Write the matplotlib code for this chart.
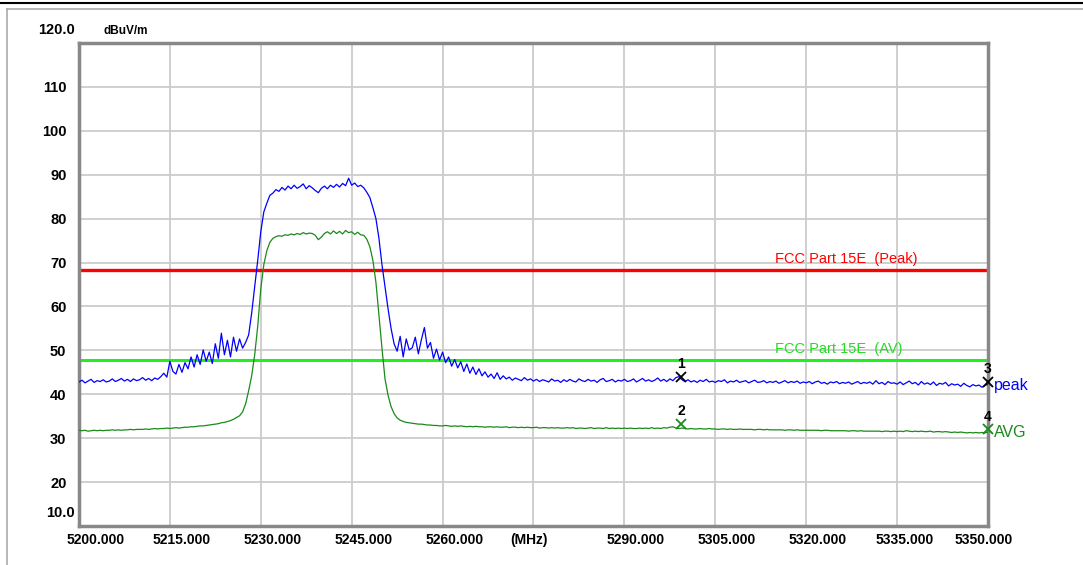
import numpy as np
import matplotlib
matplotlib.use("Agg")
import matplotlib.pyplot as plt
import matplotlib.transforms as mtransforms
from matplotlib.lines import Line2D

plt.rcParams['font.family'] = ['Liberation Sans', 'DejaVu Sans']

# sweep points, 0.5 MHz apart
freq = np.arange(5200.0, 5350.01, 0.5)

peak = [
    42.8, 43.2, 42.6, 43.0, 43.4, 42.7, 43.1, 42.9, 43.3, 42.8,
    43.0, 43.5, 42.9, 43.2, 43.6, 43.0, 43.4, 42.9, 43.5, 43.1,
    43.3, 43.8, 43.2, 43.6, 43.1, 43.7, 43.4, 44.0, 44.8, 43.9,
    47.5, 45.2, 44.6, 46.8, 45.0, 47.2, 45.8, 48.5, 46.2, 49.0,
    46.8, 50.1, 47.5, 49.6, 47.0, 51.5, 48.2, 53.9, 49.0, 52.3,
    48.5, 53.0, 49.8, 52.6, 50.5, 51.8, 53.5, 58.5, 64.5, 70.5,
    77.0, 81.5, 83.5, 85.3, 85.8, 86.6, 86.2, 87.1, 86.5, 87.4,
    86.8, 87.6, 86.9, 87.3, 87.9, 86.8, 87.5, 87.0, 86.4, 85.9,
    86.9, 87.4, 86.8, 87.6, 87.1, 87.8, 87.2, 88.0, 87.5, 89.2,
    87.6, 88.1, 87.3, 87.6, 87.0, 86.0, 84.8, 82.5, 80.0, 75.5,
    69.5, 64.5, 59.5, 55.0, 51.5, 49.8, 53.2, 48.5, 52.6, 50.1,
    50.6, 53.0, 49.2, 52.4, 55.2, 50.5, 51.8, 48.2, 50.3, 47.8,
    49.6, 47.2, 48.5, 46.4, 47.9, 46.0, 47.4, 45.2, 46.9, 44.8,
    46.2, 44.5, 45.8, 44.2, 45.1, 43.9, 44.6, 43.6, 44.9, 43.4,
    44.2, 43.5, 43.9, 43.2, 43.7, 43.4, 43.1, 43.8, 43.2, 43.5,
    43.0, 43.4, 42.9, 43.3, 43.1, 42.8, 43.5, 43.0, 43.2, 42.7,
    43.3, 42.9, 43.4, 43.0, 42.8, 43.5, 43.1, 42.9, 43.4, 43.0,
    43.2, 42.7, 43.3, 43.6, 42.9, 43.1, 43.4, 42.8, 43.2, 43.0,
    43.4, 42.9, 43.1, 43.5, 42.8, 43.2, 43.6, 43.0, 43.3, 42.9,
    43.2, 43.7, 43.0, 43.4, 42.9, 43.5, 43.1, 43.8, 44.0, 43.3,
    42.9, 43.3, 42.8, 43.1, 42.7, 43.2, 42.9, 43.4, 42.8, 43.0,
    42.7, 43.1, 42.9, 43.3, 42.6, 43.0, 42.8, 43.2, 42.7, 42.9,
    43.1, 42.6, 42.9, 43.2, 42.7, 42.8, 43.1, 42.6, 42.9, 42.7,
    43.0, 42.5, 42.8, 43.1, 42.6, 42.9, 42.7, 43.0, 42.5, 42.8,
    42.6, 42.9, 42.4, 42.8, 43.0, 42.5, 42.7, 42.3, 42.8, 42.6,
    42.9, 42.4, 42.7, 42.5, 42.8, 42.3, 42.6, 42.9, 42.4, 42.7,
    42.5, 42.8, 42.3, 43.1, 42.4, 42.7, 42.2, 42.9, 42.5, 42.6,
    42.3, 42.8, 42.2, 42.6, 43.0, 42.4, 42.7, 42.1, 42.9, 42.3,
    42.6, 42.2, 42.8, 42.0, 42.5, 42.3, 42.7, 41.9, 42.4, 42.1,
    42.3, 41.8, 42.5, 42.0, 41.7, 42.2, 41.9, 42.1, 41.6, 42.0,
    42.3,
]

avg = [
    31.8, 31.7, 31.8, 31.6, 31.7, 31.8, 31.7, 31.8, 31.7, 31.8,
    31.8, 31.9, 31.8, 31.9, 31.8, 31.9, 31.9, 32.0, 31.9, 32.0,
    32.0, 32.0, 32.1, 32.0, 32.1, 32.2, 32.1, 32.2, 32.2, 32.3,
    32.2, 32.3, 32.4, 32.3, 32.4, 32.5, 32.5, 32.6, 32.6, 32.7,
    32.8, 32.8, 32.9, 33.0, 33.1, 33.2, 33.3, 33.5, 33.6, 33.8,
    34.0, 34.3, 34.7, 35.1, 36.0, 37.8, 40.8, 44.2, 49.0, 55.5,
    64.0, 69.5, 72.7, 74.6, 75.5, 75.9, 76.1, 76.0, 76.3, 76.2,
    76.5, 76.3, 76.6, 76.4, 76.8, 76.5, 76.7, 76.6, 76.2, 75.2,
    75.8, 76.6, 77.0, 76.5, 77.2, 76.6, 77.1, 76.5, 77.3, 76.8,
    77.0, 76.4, 76.9, 76.3, 76.2, 75.3, 73.6, 70.5, 65.5, 58.0,
    50.5, 43.5, 39.8, 37.2, 35.6, 34.6, 34.1, 33.8, 33.6, 33.5,
    33.4, 33.3, 33.2, 33.2, 33.1, 33.0, 33.0, 32.9, 32.9, 32.8,
    32.8, 32.9, 32.8, 32.7, 32.8, 32.7, 32.8, 32.7, 32.6, 32.7,
    32.6, 32.7, 32.6, 32.6, 32.5, 32.6, 32.6, 32.5, 32.6, 32.5,
    32.5, 32.6, 32.4, 32.5, 32.5, 32.4, 32.5, 32.4, 32.5, 32.4,
    32.4, 32.5, 32.3, 32.4, 32.4, 32.3, 32.4, 32.3, 32.4, 32.3,
    32.3, 32.4, 32.3, 32.4, 32.2, 32.3, 32.3, 32.2, 32.3, 32.4,
    32.2, 32.3, 32.3, 32.2, 32.4, 32.2, 32.3, 32.2, 32.3, 32.2,
    32.3, 32.2, 32.3, 32.2, 32.2, 32.3, 32.2, 32.3, 32.2, 32.4,
    32.2, 32.3, 32.2, 32.4, 32.3, 32.5, 32.6, 32.3, 32.2, 32.3,
    32.2, 32.1, 32.2, 32.1, 32.1, 32.2, 32.1, 32.1, 32.2, 32.1,
    32.1, 32.0, 32.1, 32.1, 32.0, 32.1, 32.0, 32.0, 32.1, 32.0,
    32.0, 32.0, 32.0, 31.9, 32.0, 32.0, 31.9, 32.0, 31.9, 31.9,
    31.9, 31.9, 31.9, 31.8, 31.9, 31.9, 31.8, 31.9, 31.8, 31.8,
    31.8, 31.8, 31.8, 31.8, 31.8, 31.7, 31.8, 31.8, 31.7, 31.7,
    31.7, 31.7, 31.7, 31.7, 31.6, 31.7, 31.7, 31.6, 31.7, 31.6,
    31.6, 31.6, 31.6, 31.6, 31.6, 31.5, 31.6, 31.6, 31.5, 31.6,
    31.5, 31.6, 31.5, 31.7, 31.6, 31.5, 31.6, 31.5, 31.6, 31.5,
    31.5, 31.6, 31.4, 31.5, 31.5, 31.4, 31.5, 31.4, 31.3, 31.4,
    31.3, 31.4, 31.3, 31.2, 31.3, 31.2, 31.3, 31.2, 31.3, 31.2,
    31.4,
]

limit_peak = 68.2
limit_av = 47.7

marker_ids = ["1", "2", "3", "4"]
marker_freq = [5299.4, 5299.4, 5350.0, 5350.0]
marker_level = [44.0, 33.3, 42.9, 32.0]
marker_colors = ["black", "#1a8a1a", "black", "#1a8a1a"]

x_ticks = [5200, 5215, 5230, 5245, 5260, 5275, 5290, 5305, 5320, 5335, 5350]
x_labels = ["5200.000", "5215.000", "5230.000", "5245.000", "5260.000", "(MHz)",
            "5290.000", "5305.000", "5320.000", "5335.000", "5350.000"]
y_ticks = [20, 30, 40, 50, 60, 70, 80, 90, 100, 110]

fig = plt.figure(figsize=(10.83, 5.65), dpi=100)
ax = fig.add_axes([0.0729, 0.069, 0.8394, 0.855])

ax.plot(freq, peak, color="#0000ff", lw=0.9, zorder=3)
ax.plot(freq, avg, color="#1a8a1a", lw=0.9, zorder=3)
ax.axhline(limit_peak, color="#ff0000", lw=2.4, zorder=2)
ax.axhline(limit_av, color="#22ee22", lw=2.2, zorder=2)

ax.text(5314.8, limit_peak + 1.1, "FCC Part 15E  (Peak)", color="#ff0000",
        fontsize=10.5, va="bottom", ha="left")
ax.text(5314.8, limit_av + 1.1, "FCC Part 15E  (AV)", color="#22dd22",
        fontsize=10.5, va="bottom", ha="left")

for mid, mf, ml, mc in zip(marker_ids, marker_freq, marker_level, marker_colors):
    ax.plot(mf, ml, marker="x", color=mc, ms=6.5, mew=1.3, zorder=5, clip_on=False)
    ax.text(mf, ml + 1.3, mid, color="black", fontsize=10, ha="center",
            va="bottom", fontweight="bold", zorder=5)

ax.text(5351.0, marker_level[2] - 0.8, "peak", color="#0000ff", fontsize=11.5,
        va="center", ha="left")
ax.text(5351.0, marker_level[3] - 0.8, "AVG", color="#1a8a1a", fontsize=11.5,
        va="center", ha="left")

ax.set_xlim(5200, 5350)
ax.set_ylim(10, 120)
ax.set_xticks(x_ticks)
ax.set_xticklabels(x_labels, fontsize=10, fontweight="bold")
ax.set_yticks(y_ticks)
ax.set_yticklabels([str(v) for v in y_ticks], fontsize=10.5, fontweight="bold")
ax.tick_params(length=0, pad=5)
ax.tick_params(axis="y", pad=9)

# analyzer labels sit a bit right of their grid lines
shifts = [17, 12, 12, 12, 12, -4, 11, 11, 11, 8, -4]
for lab, dx in zip(ax.get_xticklabels(), shifts):
    lab.set_transform(lab.get_transform() +
                      mtransforms.ScaledTranslation(dx / 100, 0, fig.dpi_scale_trans))

ax.grid(True, color="#cccccc", lw=1.3)
ax.set_axisbelow(True)
for s in ax.spines.values():
    s.set_color("#888888")
    s.set_linewidth(2.5)

ax.text(-0.005, 1.012, "120.0", transform=ax.transAxes, fontsize=10.5,
        fontweight="bold", ha="right", va="bottom")
ax.text(-0.005, 0.012, "10.0", transform=ax.transAxes, fontsize=10.5,
        fontweight="bold", ha="right", va="bottom")
ax.text(0.027, 1.012, "dBuV/m", transform=ax.transAxes, fontsize=8.5,
        fontweight="bold", ha="left", va="bottom")

# window frame
fig.add_artist(Line2D([0, 1], [1 - 3 / 565, 1 - 3 / 565], color="black", lw=1.5,
                      transform=fig.transFigure))
fig.add_artist(Line2D([7 / 1083, 1], [1 - 9 / 565, 1 - 9 / 565], color="#aaaaaa",
                      lw=1.2, transform=fig.transFigure))
fig.add_artist(Line2D([7 / 1083, 7 / 1083], [0, 1 - 9 / 565], color="#aaaaaa",
                      lw=1.2, transform=fig.transFigure))

fig.savefig("out.png", dpi=100)
